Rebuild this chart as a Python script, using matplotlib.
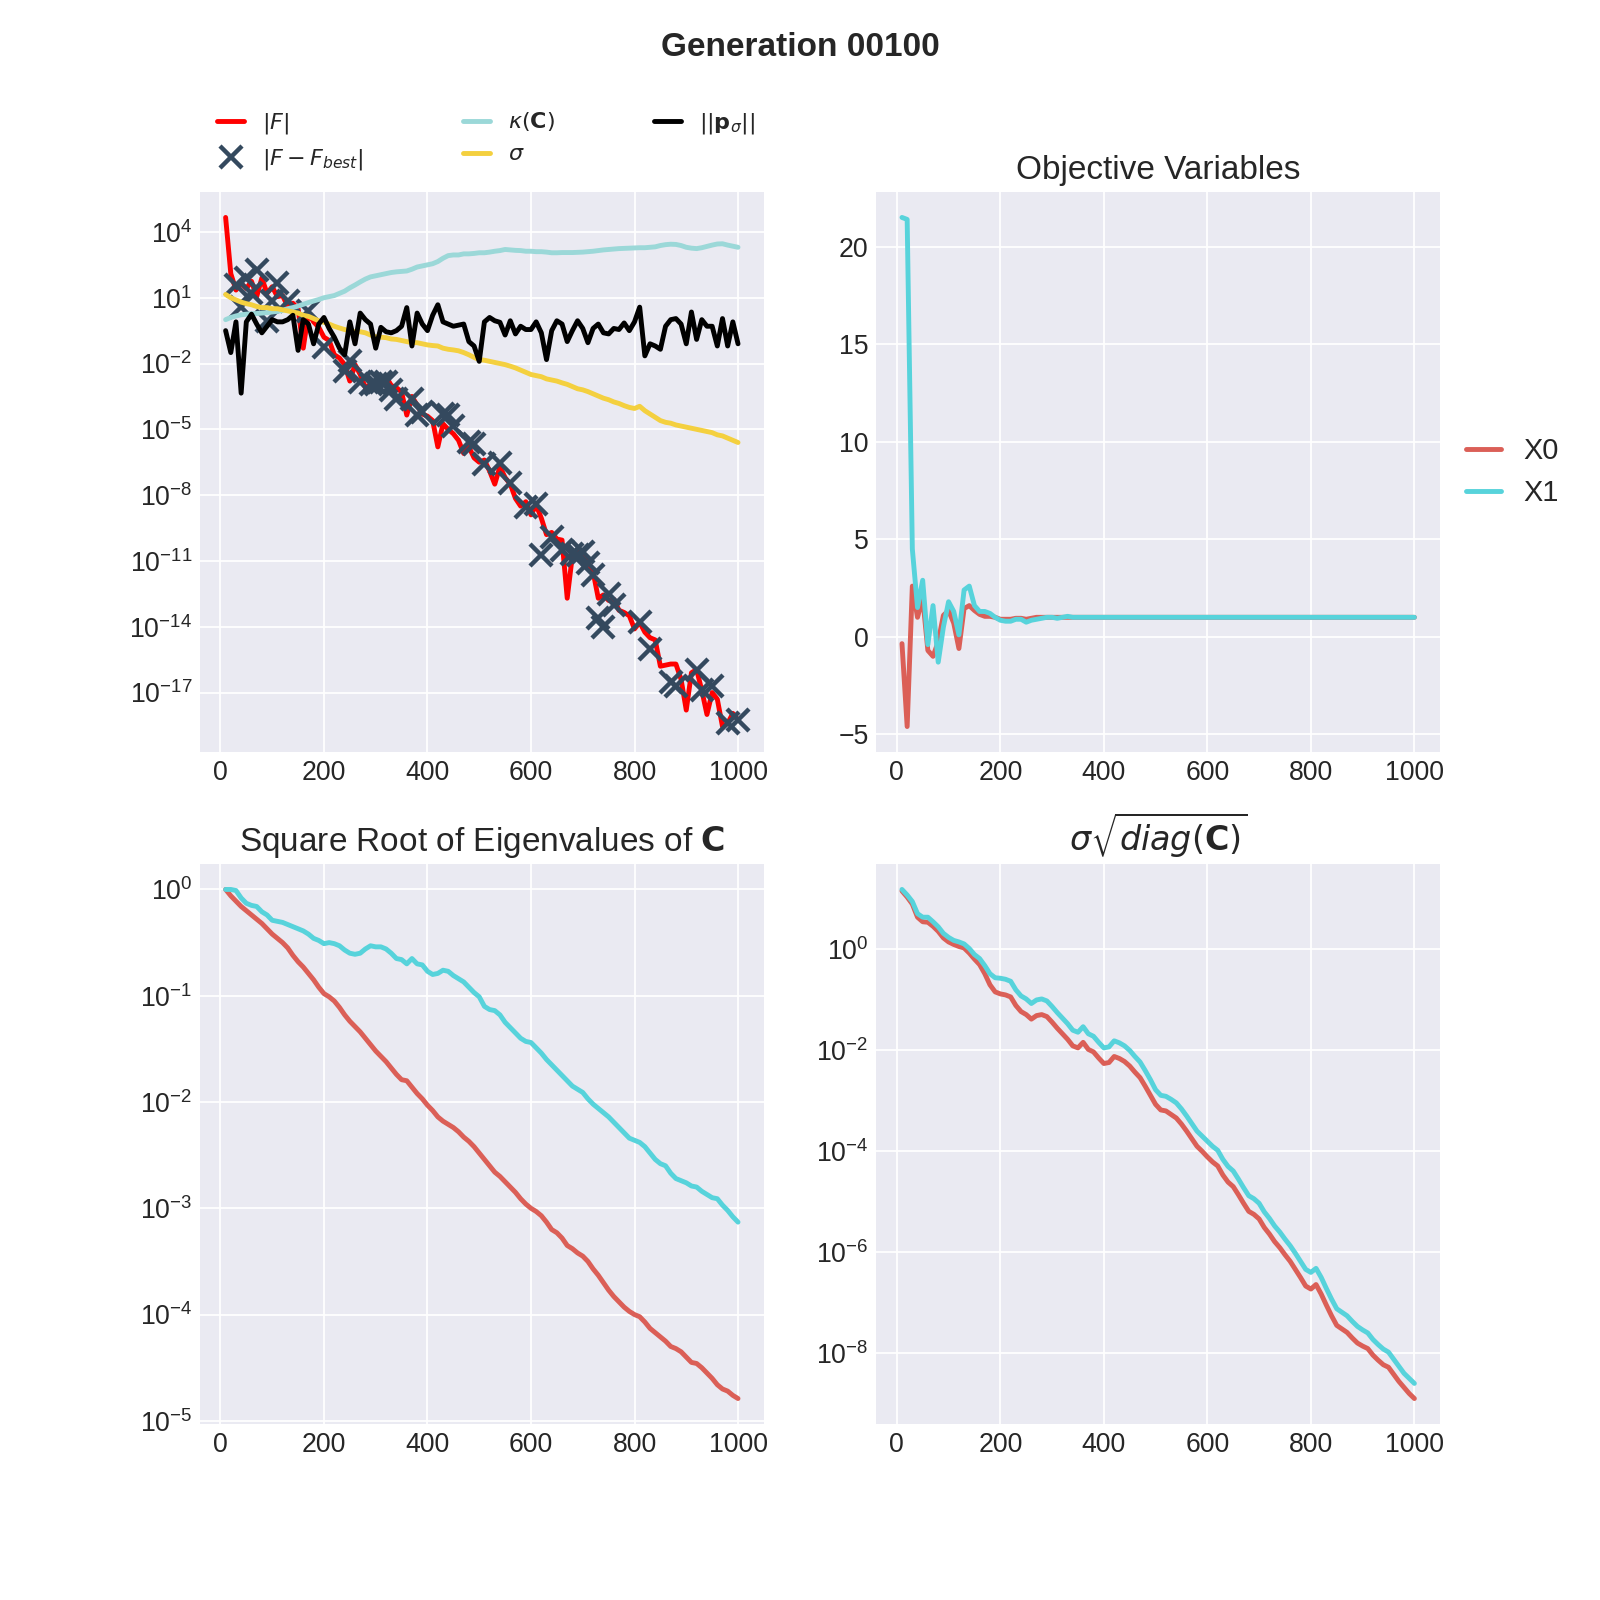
import numpy as np
import matplotlib
matplotlib.use("Agg")
import matplotlib.pyplot as plt

plt.style.use("seaborn-v0_8-darkgrid")
plt.rcParams["font.family"] = ["Liberation Sans", "DejaVu Sans"]
plt.rcParams["legend.handlelength"] = 1.2

# evaluation counts (10 per generation, 100 generations)
evals = np.arange(10, 1001, 10)

# log10 of |F|
log_f = [4.66, 2.1, 1.35, 1.65, 1.42, 1.75, 1.05, 1.9, 1.2, 1.5,
         1.05, 1.1, 0.6, 0.75, 0.5, -1.3, 0.3, -0.1, -0.35, -0.8,
         -0.95, -1.6, -1.75, -2.05, -2.8, -2.05, -2.5, -3.1, -2.95, -3.1,
         -2.8, -2.6, -3.0, -3.1, -3.3, -4.35, -3.5, -3.9, -4.3, -4.4,
         -4.6, -5.8, -4.75, -5.0, -5.2, -5.5, -6.1, -5.8, -6.3, -6.5,
         -6.4, -6.9, -7.5, -6.7, -7.2, -7.5, -8.15, -8.5, -8.3, -8.9,
         -8.45, -9.05, -9.8, -9.7, -10.0, -10.05, -12.7, -10.75, -10.6, -10.75,
         -11.05, -11.5, -12.7, -12.55, -12.8, -12.75, -13.25, -13.35, -13.5, -14.1,
         -13.8, -14.25, -14.5, -14.6, -15.8, -15.75, -15.7, -15.7, -16.4, -17.8,
         -16.1, -15.95, -16.9, -18.0, -17.0, -17.3, -18.55, -18.4, -17.95, -18.25]

# |F - F_best| markers
best_x = [30, 40, 50, 60, 70, 90, 100, 110, 130, 170,
          200, 240, 250, 270, 290, 300, 310, 320, 330, 340,
          370, 380, 390, 430, 440, 450, 480, 490, 510, 540,
          560, 590, 610, 620, 640, 660, 680, 690, 700, 710,
          720, 730, 740, 750, 760, 810, 830, 870, 880, 920,
          930, 950, 980, 1000]
log_best = [1.6, 0.6, 1.9, 1.2, 2.25, -0.05, 0.85, 1.65, 0.85, 0.4,
            -1.25, -2.35, -1.9, -2.85, -2.95, -2.95, -2.85, -2.85, -3.2, -3.6,
            -3.6, -4.35, -4.2, -4.3, -4.35, -4.85, -5.6, -5.65, -6.6, -6.55,
            -7.45, -8.55, -8.4, -10.75, -9.9, -10.5, -10.7, -10.75, -10.6, -11.1,
            -11.65, -13.6, -14.0, -12.5, -13.0, -13.8, -15.0, -16.5, -16.7, -15.95,
            -16.9, -16.7, -18.4, -18.25]

# log10 of condition number kappa(C)
log_kappa = [0.0, 0.1, 0.17, 0.22, 0.25, 0.27, 0.28, 0.3, 0.32, 0.35,
             0.38, 0.42, 0.5, 0.55, 0.62, 0.7, 0.78, 0.85, 0.92, 1.0,
             1.05, 1.1, 1.2, 1.3, 1.45, 1.58, 1.72, 1.85, 1.95, 2.0,
             2.05, 2.1, 2.15, 2.18, 2.2, 2.22, 2.3, 2.4, 2.45, 2.5,
             2.55, 2.65, 2.8, 2.92, 2.95, 2.95, 3.0, 3.0, 3.02, 3.05,
             3.05, 3.08, 3.12, 3.15, 3.2, 3.18, 3.16, 3.15, 3.12, 3.12,
             3.1, 3.1, 3.08, 3.05, 3.05, 3.06, 3.06, 3.06, 3.07, 3.08,
             3.1, 3.12, 3.15, 3.18, 3.2, 3.22, 3.24, 3.25, 3.26, 3.27,
             3.28, 3.28, 3.3, 3.32, 3.38, 3.42, 3.44, 3.43, 3.38, 3.3,
             3.26, 3.24, 3.28, 3.34, 3.4, 3.45, 3.46, 3.4, 3.35, 3.3]

# log10 of step size sigma
log_sigma = [1.15, 1.0, 0.9, 0.8, 0.73, 0.68, 0.6, 0.55, 0.55, 0.5,
             0.5, 0.45, 0.4, 0.35, 0.3, 0.2, 0.15, 0.05, -0.05, -0.12,
             -0.2, -0.3, -0.38, -0.45, -0.5, -0.55, -0.55, -0.6, -0.7, -0.78,
             -0.8, -0.82, -0.88, -0.9, -0.95, -1.0, -1.05, -1.05, -1.1, -1.15,
             -1.18, -1.2, -1.3, -1.35, -1.38, -1.42, -1.5, -1.6, -1.72, -1.82,
             -1.85, -1.9, -1.95, -2.0, -2.05, -2.12, -2.2, -2.3, -2.4, -2.5,
             -2.55, -2.6, -2.7, -2.75, -2.8, -2.88, -2.95, -3.05, -3.15, -3.2,
             -3.28, -3.38, -3.48, -3.58, -3.65, -3.75, -3.82, -3.92, -4.0, -4.05,
             -3.95, -4.15, -4.3, -4.45, -4.6, -4.68, -4.72, -4.8, -4.85, -4.9,
             -4.95, -5.0, -5.05, -5.1, -5.15, -5.25, -5.3, -5.4, -5.5, -5.6]

# log10 of ||p_sigma||
log_psigma = [-0.5, -1.5, -0.1, -3.35, -0.1, 0.25, -0.2, -0.6, -0.3, 0.0,
              -0.1, -0.1, 0.0, 0.2, -1.4, 0.0, -0.2, -1.1, -0.2, 0.1,
              -0.4, -0.8, -1.3, -1.6, -0.1, -1.1, 0.3, 0.0, -0.2, -1.3,
              -0.35, -0.55, -0.6, -0.5, -0.3, 0.55, -1.2, 0.3, -0.2, -0.5,
              0.2, 0.68, -0.1, -0.2, -0.3, -0.25, -0.2, -1.0, -1.2, -1.9,
              -0.1, 0.1, -0.05, -0.12, -0.7, -0.05, -0.65, -0.3, -0.45, -0.45,
              -0.1, -0.6, -1.82, -0.5, -0.05, -0.2, -1.0, -0.5, -0.05, -0.4,
              -1.05, -0.4, -0.2, -0.6, -0.65, -0.4, -0.45, -0.15, -0.5, -0.1,
              0.57, -1.65, -1.1, -1.2, -1.35, -0.3, 0.0, 0.05, -0.2, -1.1,
              0.35, -0.9, 0.0, -0.3, -0.3, -1.2, 0.05, -1.2, -0.1, -1.1]

# objective variables
x0_vals = [-0.35, -4.6, 2.6, 1.0, 2.0, -0.7, -1.0, -0.25, 1.1, 1.35,
           0.7, -0.6, 1.45, 1.6, 1.35, 1.15, 1.05, 1.05, 1.0, 0.9,
           0.9, 0.9, 0.95, 0.95, 0.9, 0.95, 1.0, 1.0, 1.0, 1.0,
           1.0, 1.0, 1.0, 1.0, 1.0, 1.0, 1.0, 1.0, 1.0, 1.0,
           1.0, 1.0, 1.0, 1.0, 1.0, 1.0, 1.0, 1.0, 1.0, 1.0,
           1.0, 1.0, 1.0, 1.0, 1.0, 1.0, 1.0, 1.0, 1.0, 1.0,
           1.0, 1.0, 1.0, 1.0, 1.0, 1.0, 1.0, 1.0, 1.0, 1.0,
           1.0, 1.0, 1.0, 1.0, 1.0, 1.0, 1.0, 1.0, 1.0, 1.0,
           1.0, 1.0, 1.0, 1.0, 1.0, 1.0, 1.0, 1.0, 1.0, 1.0,
           1.0, 1.0, 1.0, 1.0, 1.0, 1.0, 1.0, 1.0, 1.0, 1.0]
x1_vals = [21.5, 21.4, 4.5, 1.5, 2.9, -0.4, 1.6, -1.3, 0.5, 1.8,
           1.3, 0.1, 2.4, 2.6, 1.6, 1.3, 1.3, 1.2, 1.0, 0.85,
           0.8, 0.8, 0.9, 0.9, 0.75, 0.85, 0.9, 0.95, 1.0, 1.0,
           0.95, 1.0, 1.05, 1.0, 1.0, 1.0, 1.0, 1.0, 1.0, 1.0,
           1.0, 1.0, 1.0, 1.0, 1.0, 1.0, 1.0, 1.0, 1.0, 1.0,
           1.0, 1.0, 1.0, 1.0, 1.0, 1.0, 1.0, 1.0, 1.0, 1.0,
           1.0, 1.0, 1.0, 1.0, 1.0, 1.0, 1.0, 1.0, 1.0, 1.0,
           1.0, 1.0, 1.0, 1.0, 1.0, 1.0, 1.0, 1.0, 1.0, 1.0,
           1.0, 1.0, 1.0, 1.0, 1.0, 1.0, 1.0, 1.0, 1.0, 1.0,
           1.0, 1.0, 1.0, 1.0, 1.0, 1.0, 1.0, 1.0, 1.0, 1.0]

# log10 of square roots of eigenvalues of C
log_eig0 = [0.0, -0.06, -0.11, -0.16, -0.2, -0.24, -0.28, -0.32, -0.37, -0.42,
            -0.46, -0.5, -0.55, -0.62, -0.68, -0.73, -0.79, -0.85, -0.92, -0.98,
            -1.01, -1.05, -1.11, -1.18, -1.24, -1.29, -1.34, -1.4, -1.46, -1.52,
            -1.57, -1.62, -1.68, -1.74, -1.79, -1.8, -1.86, -1.92, -1.97, -2.03,
            -2.08, -2.14, -2.18, -2.21, -2.24, -2.28, -2.33, -2.37, -2.42, -2.48,
            -2.54, -2.6, -2.66, -2.7, -2.75, -2.8, -2.85, -2.91, -2.96, -3.0,
            -3.03, -3.07, -3.13, -3.2, -3.23, -3.28, -3.35, -3.38, -3.42, -3.45,
            -3.5, -3.57, -3.63, -3.7, -3.77, -3.83, -3.88, -3.93, -3.97, -4.0,
            -4.02, -4.07, -4.13, -4.17, -4.21, -4.25, -4.3, -4.32, -4.35, -4.4,
            -4.45, -4.46, -4.5, -4.55, -4.6, -4.66, -4.7, -4.72, -4.76, -4.79]
log_eig1 = [0.0, 0.0, -0.01, -0.08, -0.13, -0.15, -0.16, -0.21, -0.24, -0.29,
            -0.3, -0.31, -0.33, -0.35, -0.37, -0.39, -0.42, -0.46, -0.48, -0.51,
            -0.5, -0.51, -0.53, -0.57, -0.6, -0.61, -0.6, -0.56, -0.53, -0.54,
            -0.54, -0.56, -0.6, -0.65, -0.66, -0.7, -0.65, -0.7, -0.71, -0.77,
            -0.8, -0.79, -0.76, -0.77, -0.81, -0.84, -0.87, -0.92, -0.97, -1.01,
            -1.1, -1.13, -1.14, -1.18, -1.25, -1.3, -1.35, -1.4, -1.43, -1.44,
            -1.49, -1.54, -1.6, -1.65, -1.7, -1.75, -1.8, -1.85, -1.88, -1.91,
            -1.97, -2.02, -2.06, -2.1, -2.14, -2.19, -2.24, -2.29, -2.34, -2.36,
            -2.38, -2.42, -2.48, -2.54, -2.58, -2.6, -2.67, -2.72, -2.74, -2.76,
            -2.79, -2.8, -2.84, -2.87, -2.9, -2.91, -2.97, -3.02, -3.08, -3.13]

# log10 of sigma * sqrt(diag(C))
log_sd0 = [1.16, 1.04, 0.9, 0.64, 0.55, 0.54, 0.46, 0.36, 0.23, 0.15,
           0.1, 0.06, 0.03, -0.07, -0.19, -0.3, -0.48, -0.7, -0.84, -0.88,
           -0.9, -0.94, -1.11, -1.23, -1.29, -1.38, -1.31, -1.29, -1.33, -1.44,
           -1.56, -1.67, -1.78, -1.91, -1.95, -1.84, -1.98, -2.03, -2.15, -2.26,
           -2.24, -2.12, -2.16, -2.22, -2.31, -2.43, -2.54, -2.71, -2.89, -3.07,
           -3.18, -3.2, -3.27, -3.34, -3.46, -3.6, -3.75, -3.9, -4.0, -4.11,
           -4.21, -4.29, -4.47, -4.61, -4.7, -4.86, -5.03, -5.19, -5.25, -5.34,
           -5.51, -5.64, -5.79, -5.91, -6.05, -6.18, -6.34, -6.5, -6.67, -6.73,
           -6.64, -6.83, -7.05, -7.26, -7.45, -7.52, -7.59, -7.7, -7.8, -7.86,
           -7.91, -8.04, -8.14, -8.23, -8.28, -8.42, -8.56, -8.68, -8.8, -8.9]
log_sd1 = [1.19, 1.08, 0.95, 0.71, 0.64, 0.64, 0.55, 0.45, 0.32, 0.24,
           0.18, 0.15, 0.11, 0.02, -0.1, -0.18, -0.32, -0.48, -0.56, -0.57,
           -0.59, -0.63, -0.8, -0.92, -0.98, -1.07, -1.0, -0.98, -1.02, -1.13,
           -1.25, -1.36, -1.47, -1.6, -1.64, -1.53, -1.67, -1.72, -1.84, -1.95,
           -1.93, -1.81, -1.85, -1.91, -2.0, -2.12, -2.23, -2.4, -2.58, -2.78,
           -2.89, -2.91, -2.97, -3.04, -3.16, -3.3, -3.45, -3.6, -3.7, -3.8,
           -3.9, -3.98, -4.16, -4.3, -4.39, -4.55, -4.72, -4.88, -4.94, -5.03,
           -5.2, -5.33, -5.48, -5.6, -5.74, -5.87, -6.02, -6.18, -6.34, -6.4,
           -6.32, -6.5, -6.72, -6.93, -7.12, -7.19, -7.26, -7.37, -7.47, -7.54,
           -7.6, -7.73, -7.83, -7.92, -7.98, -8.12, -8.26, -8.4, -8.5, -8.6]

c_x0 = "#db5f57"
c_x1 = "#57d3db"

fig = plt.figure(figsize=(10, 10), dpi=160)
fig.suptitle("Generation 00100", fontsize=15, fontweight="bold")

# top left: fitness and strategy parameters
ax1 = fig.add_subplot(2, 2, 1)
ax1.plot(evals, 10.0 ** np.array(log_f), color="red", lw=2.2, label=r"$|F|$")
ax1.plot(best_x, 10.0 ** np.array(log_best), "x", color="#34495e", ms=10, mew=2,
         label=r"$|F - F_{best}|$")
ax1.plot(evals, 10.0 ** np.array(log_kappa), color="#9bd8d8", lw=2.2,
         label=r"$\kappa(\mathbf{C})$")
ax1.plot(evals, 10.0 ** np.array(log_sigma), color="#f4d03f", lw=2.2, label=r"$\sigma$")
ax1.plot(evals, 10.0 ** np.array(log_psigma), color="black", lw=2.2,
         label=r"$||\mathbf{p}_{\sigma}||$")
ax1.set_yscale("log")
ax1.legend(bbox_to_anchor=(0.015, 1.02, 0.985, 0.102), loc="lower left", ncol=3,
           mode="expand", borderaxespad=0, fontsize=10)

# top right: objective variables
ax2 = fig.add_subplot(2, 2, 2)
ax2.plot(evals, x0_vals, color=c_x0, lw=2.2, label="X0")
ax2.plot(evals, x1_vals, color=c_x1, lw=2.2, label="X1")
ax2.set_title("Objective Variables", fontsize=15)
ax2.legend(loc="center left", bbox_to_anchor=(1, 0.5), fontsize=13)

# bottom left: eigenvalues
ax3 = fig.add_subplot(2, 2, 3)
ax3.plot(evals, 10.0 ** np.array(log_eig0), color=c_x0, lw=2.2)
ax3.plot(evals, 10.0 ** np.array(log_eig1), color=c_x1, lw=2.2)
ax3.set_yscale("log")
ax3.set_title(r"Square Root of Eigenvalues of $\mathbf{C}$", fontsize=15)

# bottom right: standard deviations
ax4 = fig.add_subplot(2, 2, 4)
ax4.plot(evals, 10.0 ** np.array(log_sd0), color=c_x0, lw=2.2)
ax4.plot(evals, 10.0 ** np.array(log_sd1), color=c_x1, lw=2.2)
ax4.set_yscale("log")
ax4.set_title(r"$\sigma\sqrt{diag(\mathbf{C})}$", fontsize=15)

for ax in (ax1, ax2, ax3, ax4):
    ax.tick_params(labelsize=12)

fig.savefig("out.png", dpi=160)
